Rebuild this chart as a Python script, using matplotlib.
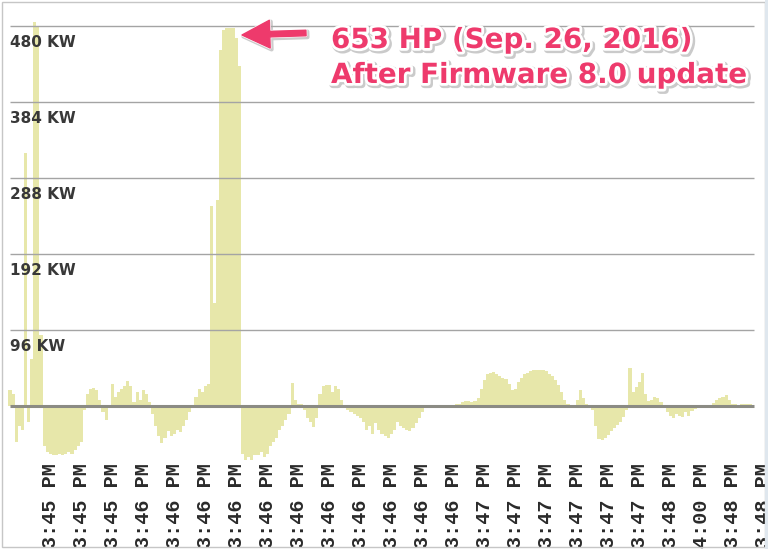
import matplotlib
matplotlib.use('Agg')
import matplotlib.pyplot as plt
import matplotlib.patheffects as pe
from matplotlib.patches import Rectangle

# power draw per sample (kW)
power_kw = [
    20, 15, -45, -25, -30, 320, -20, 60, 485, 480,
    90, -50, -58, -60, -62, -62, -60, -62, -60, -58,
    -60, -55, -50, -45, -5, 15, 22, 23, 20, 8,
    -8, -18, -3, 28, 12, 18, 22, 25, 32, 25,
    5, 18, 8, 20, 15, 5, -10, -25, -38, -47,
    -40, -32, -38, -35, -30, -33, -25, -18, -8, 0,
    12, 22, 18, 25, 28, 252, 130, 260, 450, 475,
    478, 478, 477, 465, 430, -60, -68, -65, -68, -62,
    -62, -58, -65, -60, -50, -45, -40, -30, -25, -18,
    -10, 29, 8, 3, 2, -5, -15, -20, -26, -15,
    15, 25, 26, 26, 18, 25, 22, 8, 0, -5,
    -8, -10, -12, -15, -20, -30, -25, -35, -22, -30,
    -35, -38, -40, -35, -30, -20, -25, -28, -30, -32,
    -28, -22, -15, -8, -3, -1, 0, 0, 0, 0,
    0, 0, 1, 1, 2, 3, 5, 6, 6, 5,
    6, 10, 22, 33, 40, 42, 43, 40, 38, 36,
    34, 28, 20, 22, 30, 36, 40, 42, 44, 45,
    45, 45, 45, 44, 40, 38, 33, 27, 18, 8,
    2, 0, 0, 8, 20, 10, 3, 0, -5, -25,
    -42, -43, -40, -36, -32, -28, -24, -20, -14, -5,
    48, 18, 24, 30, 42, 15, 6, 8, 12, 10,
    5, 0, -8, -12, -15, -10, -12, -14, -8, -12,
    -6, -4, -2, -1, 0, 0, 1, 4, 8, 10,
    12, 14, 8, 2, 2, 1, 2, 2, 3, 3,
]

grid_kw = [96, 192, 288, 384, 480]

time_labels = (["3:45 PM"] * 3 + ["3:46 PM"] * 11 + ["3:47 PM"] * 6
               + ["3:48 PM", "4:00 PM", "3:48 PM", "3:48 PM"])
first_tick = 13
tick_every = 10


def main():
    W, H = 768, 549
    fig = plt.figure(figsize=(W / 100, H / 100), dpi=100)
    fig.patch.set_facecolor('white')

    ax = fig.add_axes([8.45 / W, (H - 462) / H, (W - 8.45) / W, 462 / H])
    ax.set_facecolor('none')

    n = len(power_kw)
    ax.bar(range(n), power_kw, width=1.0, color='#e7e7aa', linewidth=0, zorder=1)
    ax.hlines(grid_kw, 0, n, colors='#a4a4a4', linewidth=1.0, zorder=2)
    ax.hlines(0, 0, n, colors='#8b8b84', linewidth=2.2, zorder=3)

    for v in grid_kw:
        ax.annotate('%d KW' % v, xy=(0, v), xytext=(0, -12.2),
                    textcoords='offset points', ha='left', va='center',
                    fontsize=11, fontweight='bold', family='DejaVu Sans',
                    color='#383838', zorder=4)

    ax.set_xlim(-0.5, 244.5)
    ax.set_ylim(-70.7, 512.8)
    for s in ax.spines.values():
        s.set_visible(False)
    ax.set_yticks([])
    ticks = [first_tick + tick_every * k for k in range(len(time_labels))]
    ax.set_xticks(ticks)
    ax.set_xticklabels(time_labels, rotation=90, family='Liberation Mono',
                       fontweight='bold', fontsize=14.5, color='#2a2a2a')
    ax.tick_params(axis='x', length=0, pad=1)

    # arrow pointing at the peak
    pink = '#ee3a6c'
    ax.annotate('', xy=(242, H - 35), xycoords='figure pixels',
                xytext=(306, H - 33), textcoords='figure pixels',
                arrowprops=dict(arrowstyle='simple,head_length=2.0,head_width=2.0,tail_width=0.4',
                                color=pink, shrinkA=0, shrinkB=0,
                                path_effects=[pe.Stroke(offset=(1, -1), linewidth=3, foreground='#aaaaaa', alpha=0.6),
                                              pe.Stroke(linewidth=2, foreground='white'),
                                              pe.Normal()]))

    fx = [pe.Stroke(offset=(1.2, -1.2), linewidth=5, foreground='#a8a8a8', alpha=0.6),
          pe.Stroke(linewidth=4, foreground='white'),
          pe.Normal()]
    fig.text(331 / W, 1 - 48 / H, '653 HP (Sep. 26, 2016)', fontsize=20,
             fontweight='bold', color=pink, ha='left', va='baseline', path_effects=fx)
    fig.text(331 / W, 1 - 83 / H, 'After Firmware 8.0 update', fontsize=20,
             fontweight='bold', color=pink, ha='left', va='baseline', path_effects=fx)

    # screenshot frame
    fig.patches.append(Rectangle((1.5 / W, 2 / H), 763 / W, 545 / H, fill=False,
                                 edgecolor='#c6c6c6', linewidth=1, transform=fig.transFigure))
    fig.patches.append(Rectangle((765 / W, 0), 3 / W, 1, facecolor='#dfe7ee',
                                 edgecolor='none', transform=fig.transFigure))

    fig.savefig('out.png', dpi=100)


if __name__ == '__main__':
    main()
